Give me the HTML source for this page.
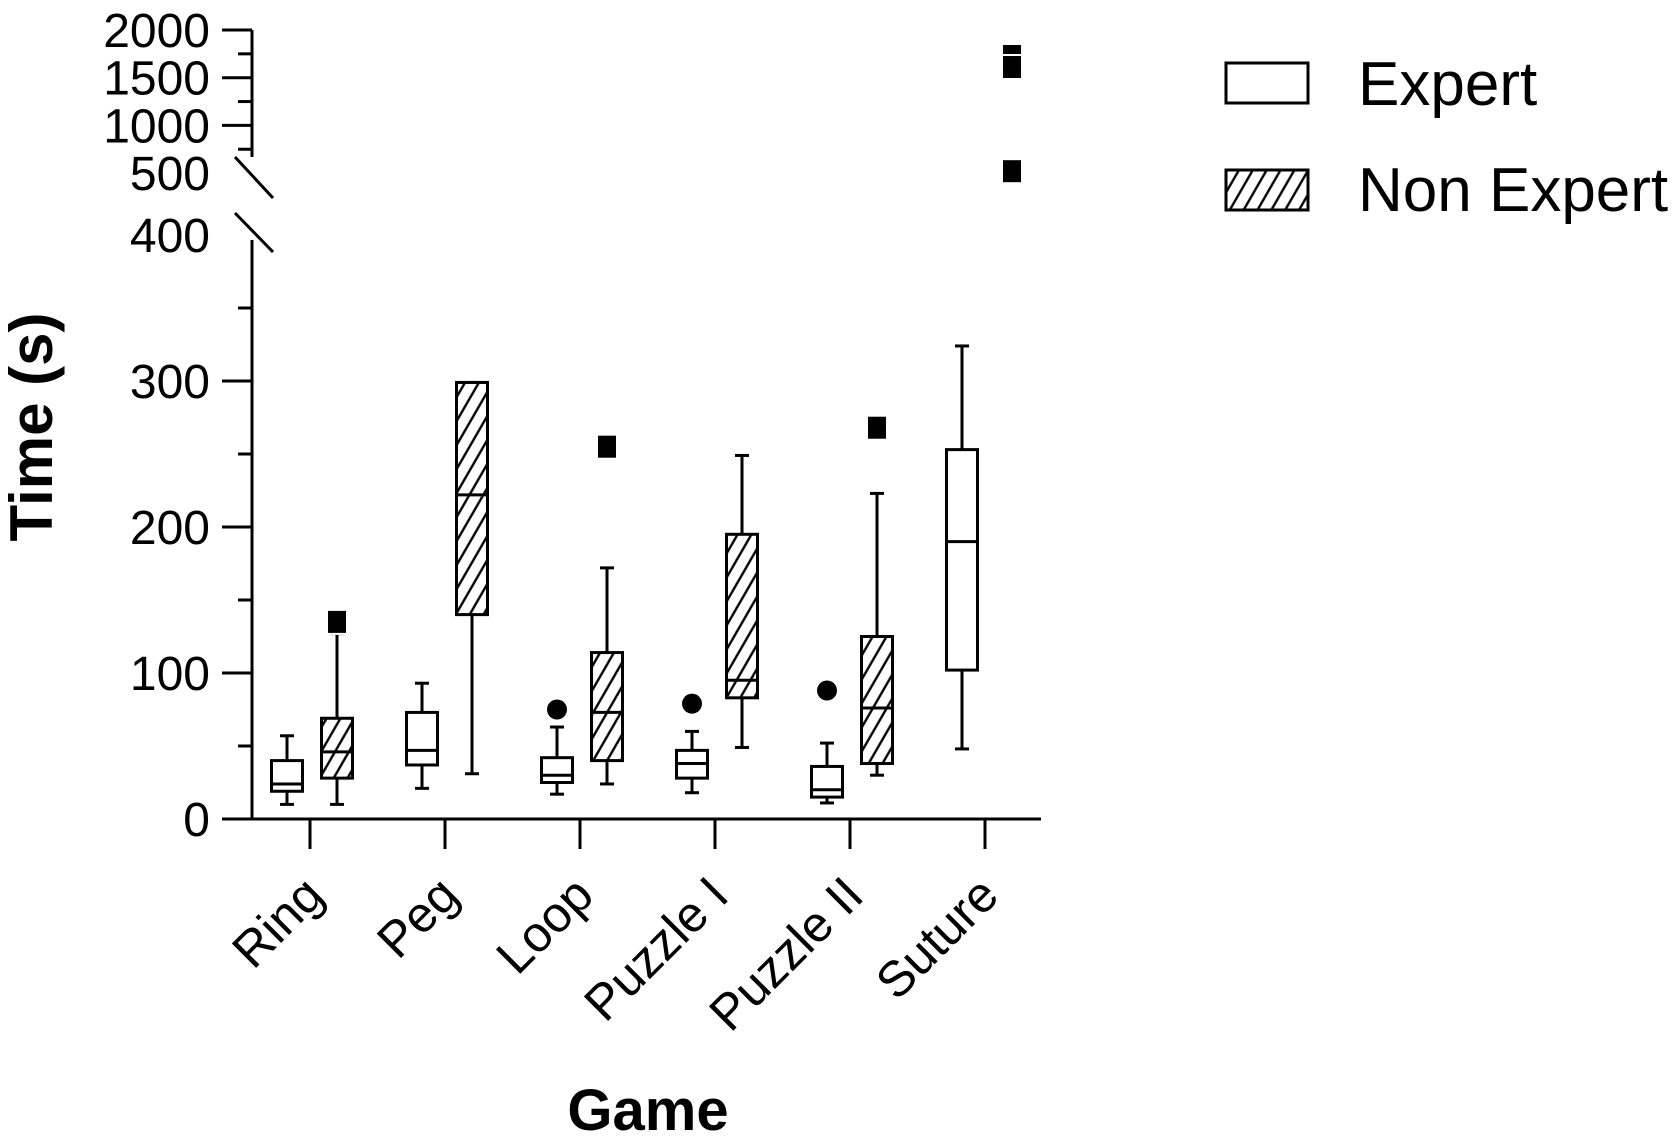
<!DOCTYPE html>
<html><head><meta charset="utf-8"><style>
html,body{margin:0;padding:0;background:#fff}
svg{display:block;font-family:"Liberation Sans",Arial,sans-serif}
</style></head><body>
<svg id="chart" width="1675" height="1141" viewBox="0 0 1675 1141" xmlns="http://www.w3.org/2000/svg">
<defs>
<pattern id="hatch" width="12" height="12" patternUnits="userSpaceOnUse" patternTransform="rotate(30)">
<rect width="12" height="12" fill="#fff"/>
<line x1="6" y1="0" x2="6" y2="12" stroke="#000" stroke-width="2.4"/>
</pattern>
<clipPath id="upperClip"><rect x="0" y="45" width="1675" height="200"/></clipPath>
</defs>
<g id="axes"></g>
<g id="marks"></g>
<text x="0" y="0" transform="translate(52,427) rotate(-90)" text-anchor="middle" font-weight="bold" font-size="60">Time (s)</text>
<text x="648" y="1130" text-anchor="middle" font-weight="bold" font-size="58">Game</text>
<g>
<g>
<rect x="1226" y="63" width="82" height="40" fill="#fff" stroke="#000" stroke-width="3"/>
<text x="1358" y="105" font-size="62">Expert</text>
</g>
<g>
<rect x="1226" y="170" width="82" height="40" fill="url(#hatch)" stroke="#000" stroke-width="3"/>
<text x="1358" y="211" font-size="62">Non Expert</text>
</g>
</g>
</svg>
<script>
const categories = ["Ring","Peg","Loop","Puzzle I","Puzzle II","Suture"];
// [whiskerLow, q1, median, q3, whiskerHigh]
const expertStats = [[10,19,24,40,57],[21,37,47,73,93],[17,25,30,42,63],[18,28,38,47,60],[11,15,20,36,52],[48,102,190,253,324]];
const nonExpertStats = [[10,28,46,69,127],[31,140,222,299,299],[24,40,73,114,172],[49,83,95,195,249],[30,38,76,125,223],null];
const expertOutliers = [[],[],[75],[79],[88],[]];
const nonExpertOutliers = [[135],[],[255],[],[268],[520,1612,1800]];
const lowTicks = [0,100,200,300];
const lowMinor = [50,150,250,350];
const highTicks = [2000,1500,1000];
const highMinor = [1750,1250,750];

const NS="http://www.w3.org/2000/svg";
const axes=document.getElementById('axes'), marks=document.getElementById('marks');
function yLow(v){return 819 - v*1.46;}
function yHigh(v){return 30 + (2000-v)*0.0954;}
function yVal(v){return v>400 ? yHigh(v) : yLow(v);}
function xExp(i){return 287 + i*135;}
function xNon(i){return xExp(i)+50;}
function el(tag,attrs,parent){const e=document.createElementNS(NS,tag);for(const k in attrs)e.setAttribute(k,attrs[k]);parent.appendChild(e);return e;}
const ln={stroke:"#000","stroke-width":3};
let a=el('line',Object.assign({x1:252,y1:240,x2:252,y2:819},ln),axes);


a=el('line',Object.assign({x1:252,y1:30,x2:252,y2:157},ln),axes);


a=el('line',Object.assign({x1:222,y1:819,x2:1041,y2:819},ln),axes);


a=el('line',Object.assign({x1:235,y1:157,x2:273,y2:198},ln),axes);


a=el('line',Object.assign({x1:235,y1:213,x2:273,y2:252},ln),axes);


function yLabel(v,y){const t=el('text',{x:210,y:y+17,"text-anchor":"end","font-size":48},axes);t.textContent=v;

}
lowTicks.forEach(v=>{const t=el('line',Object.assign({x1:222,y1:yLow(v),x2:252,y2:yLow(v)},ln),axes);


yLabel(v,yLow(v));});
yLabel(400,yLow(400));
lowMinor.forEach(v=>{const t=el('line',Object.assign({x1:238,y1:yLow(v),x2:252,y2:yLow(v)},ln),axes);

});
highTicks.forEach(v=>{const t=el('line',Object.assign({x1:222,y1:yHigh(v),x2:252,y2:yHigh(v)},ln),axes);


yLabel(v,yHigh(v));});
yLabel(500,yHigh(500));
highMinor.forEach(v=>{const t=el('line',Object.assign({x1:238,y1:yHigh(v),x2:252,y2:yHigh(v)},ln),axes);

});
categories.forEach((c,i)=>{const tx=xExp(i)+23;
const t=el('line',Object.assign({x1:tx,y1:819,x2:tx,y2:849},ln),axes);


const lb=el('text',{x:0,y:0,transform:`translate(${tx+16},${898}) rotate(-45)`,"text-anchor":"end","font-size":50},axes);
lb.textContent=c;

});
function box(cx,s,fill,name){
  const g=el('g',{},marks);
  
  
  const w=31,h=w/2;
  el('line',Object.assign({x1:cx,y1:yLow(s[0]),x2:cx,y2:yLow(s[1])},ln),g);
  el('line',Object.assign({x1:cx,y1:yLow(s[3]),x2:cx,y2:yLow(s[4])},ln),g);
  el('line',Object.assign({x1:cx-7,y1:yLow(s[0]),x2:cx+7,y2:yLow(s[0])},ln),g);
  el('line',Object.assign({x1:cx-7,y1:yLow(s[4]),x2:cx+7,y2:yLow(s[4])},ln),g);
  el('rect',{x:cx-h,y:yLow(s[3]),width:w,height:yLow(s[1])-yLow(s[3]),fill:fill,stroke:"#000","stroke-width":3},g);
  el('line',Object.assign({x1:cx-h,y1:yLow(s[2]),x2:cx+h,y2:yLow(s[2])},ln),g);
}
categories.forEach((c,i)=>{
  const k=c.toLowerCase().replace(/ /g,'-');
  box(xExp(i),expertStats[i],"#fff",'box-expert-'+k);
  if(nonExpertStats[i]) box(xNon(i),nonExpertStats[i],"url(#hatch)",'box-non-expert-'+k);
  expertOutliers[i].forEach(v=>{const o=el('circle',{cx:xExp(i),cy:yVal(v),r:10,fill:"#000"},marks);
    
    });
  // draw higher outliers first so lower ones overlay with a white separator
  nonExpertOutliers[i].slice().sort((p,q)=>q-p).forEach(v=>{
    const attrs={x:xNon(i)-10,y:yVal(v)-12,width:20,height:24,fill:"#000",stroke:"#fff","stroke-width":2};
    if(v>400) attrs['clip-path']='url(#upperClip)';
    const o=el('rect',attrs,marks);
    
    });
});
</script>
</body></html>
